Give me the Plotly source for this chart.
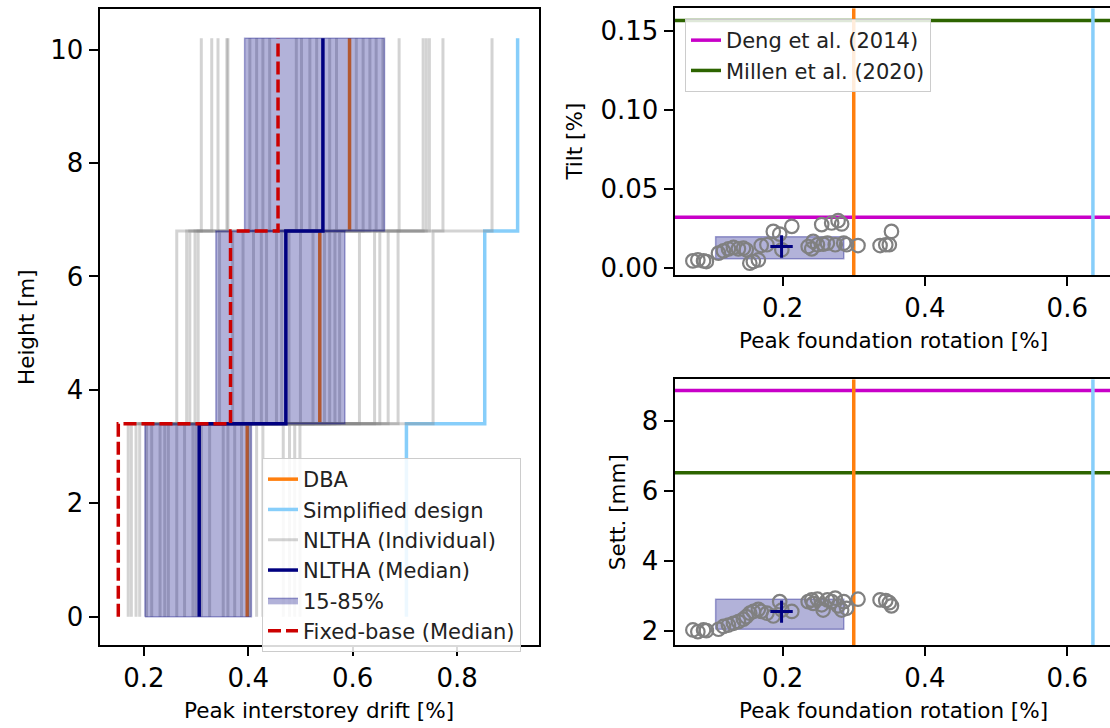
import plotly.graph_objects as go

# ---------------- data ----------------
FLOOR_H = [0.0, 3.4, 6.8, 10.2]          # storey boundaries [m]
DBA = [0.398, 0.537, 0.594]               # peak interstorey drift [%] per storey
SIMPLIFIED = [0.703, 0.853, 0.916]
NLTHA_MEDIAN = [0.306, 0.472, 0.543]
P15 = [0.202, 0.338, 0.393]
P85 = [0.406, 0.585, 0.661]
FIXED_MEDIAN = [0.151, 0.366, 0.457]

IND_S1 = [0.170, 0.176, 0.185, 0.192, 0.205, 0.215, 0.231, 0.240, 0.247, 0.263, 0.278, 0.294, 0.300,
          0.310, 0.326, 0.352, 0.361, 0.374, 0.387, 0.403, 0.416, 0.428, 0.467, 0.479, 0.489, 0.499]
IND_S2 = [0.263, 0.282, 0.288, 0.298, 0.304, 0.345, 0.370, 0.390, 0.410, 0.425, 0.435, 0.454, 0.464,
          0.478, 0.500, 0.524, 0.546, 0.556, 0.566, 0.575, 0.613, 0.642, 0.652, 0.668, 0.687, 0.754]
IND_S3 = [0.310, 0.330, 0.342, 0.359, 0.361, 0.403, 0.416, 0.428, 0.441, 0.492, 0.502, 0.518, 0.531,
          0.556, 0.569, 0.607, 0.620, 0.633, 0.645, 0.658, 0.689, 0.735, 0.741, 0.747, 0.773, 0.867]

ROT = [0.074, 0.081, 0.089, 0.093, 0.110, 0.117, 0.124, 0.131, 0.138, 0.145, 0.149, 0.154, 0.159,
       0.166, 0.170, 0.178, 0.187, 0.196, 0.199, 0.213, 0.236, 0.241, 0.243, 0.249, 0.255, 0.257,
       0.263, 0.269, 0.274, 0.278, 0.283, 0.286, 0.290, 0.306, 0.337, 0.345, 0.350, 0.353]
TILT = [0.0047, 0.0053, 0.0047, 0.0043, 0.0096, 0.0110, 0.0123, 0.0132, 0.0123, 0.0127, 0.0117, 0.0032, 0.0043,
        0.0053, 0.0144, 0.0149, 0.0233, 0.0216, 0.0117, 0.0265, 0.0138, 0.0123, 0.0170, 0.0149, 0.0276, 0.0153,
        0.0159, 0.0286, 0.0149, 0.0301, 0.0280, 0.0159, 0.0149, 0.0144, 0.0144, 0.0149, 0.0149, 0.0233]
SETT = [2.02, 1.97, 2.02, 2.00, 2.04, 2.12, 2.16, 2.21, 2.26, 2.33, 2.40, 2.50, 2.55,
        2.61, 2.55, 2.50, 2.42, 2.83, 2.59, 2.55, 2.83, 2.88, 2.78, 2.90, 2.74, 2.59,
        2.88, 2.83, 2.93, 2.71, 2.59, 2.83, 2.64, 2.90, 2.88, 2.86, 2.80, 2.71]

ROT_MED, TILT_MED, SETT_MED = 0.1986, 0.0138, 2.545
ROT_P15, ROT_P85 = 0.106, 0.286
TILT_P15, TILT_P85 = 0.0060, 0.0200
SETT_P15, SETT_P85 = 2.04, 2.90
DBA_ROT, SIMPL_ROT = 0.300, 0.636
DENG_TILT, MILLEN_TILT = 0.0322, 0.1564
DENG_SETT, MILLEN_SETT = 8.87, 6.52

# ---------------- styling ----------------
FONT = "DejaVu Sans"
C_DBA = "#ff7f0e"
C_SIMPL = "#87cefa"
C_IND = "rgba(128,128,128,0.35)"
C_MED = "#000080"
C_BAND = "rgba(0,0,128,0.3)"
C_FIX = "#cc0000"
C_DENG = "#c800c8"
C_MILLEN = "#2d6400"

W, H = 1110, 728
X1_RANGE = [0.115, 0.956]
Y1_RANGE = [-0.50, 10.71]
X2_RANGE = [0.0482, 0.660]
Y2_RANGE = [-0.0042, 0.1641]
Y3_RANGE = [1.59, 9.19]


def step(vals):
    xs, ys = [], []
    for i, v in enumerate(vals):
        xs += [v, v]
        ys += [FLOOR_H[i], FLOOR_H[i + 1]]
    return xs, ys


def verticals(vals):
    xs, ys = [], []
    for i, v in enumerate(vals):
        xs += [v, v, None]
        ys += [FLOOR_H[i], FLOOR_H[i + 1], None]
    return xs, ys


def boxes(lo, hi):
    xs, ys = [], []
    for i in range(len(lo)):
        xs += [lo[i], hi[i], hi[i], lo[i], lo[i], None]
        ys += [FLOOR_H[i], FLOOR_H[i], FLOOR_H[i + 1], FLOOR_H[i + 1], FLOOR_H[i], None]
    return xs, ys


fig = go.Figure()

# ---- left panel ----
x, y = verticals(DBA)
fig.add_trace(go.Scatter(x=x, y=y, mode="lines", line=dict(color=C_DBA, width=3.5),
                         name="DBA", legend="legend", xaxis="x", yaxis="y"))
x, y = step(SIMPLIFIED)
fig.add_trace(go.Scatter(x=x, y=y, mode="lines", line=dict(color=C_SIMPL, width=3.5),
                         name="Simplified design", legend="legend", xaxis="x", yaxis="y"))
for k in range(len(IND_S1)):
    x, y = step([IND_S1[k], IND_S2[k], IND_S3[k]])
    fig.add_trace(go.Scatter(x=x, y=y, mode="lines", line=dict(color=C_IND, width=3),
                             name="NLTHA (Individual)", legendgroup="ind", showlegend=(k == 0),
                             legend="legend", xaxis="x", yaxis="y"))
x, y = boxes(P15, P85)
fig.add_trace(go.Scatter(x=x, y=y, mode="lines", fill="toself", fillcolor=C_BAND,
                         line=dict(color="rgba(0,0,128,0.35)", width=1.5),
                         name="15-85%", legendrank=1005, legend="legend", xaxis="x", yaxis="y"))
x, y = step(NLTHA_MEDIAN)
fig.add_trace(go.Scatter(x=x, y=y, mode="lines", line=dict(color=C_MED, width=3.5),
                         name="NLTHA (Median)", legendrank=1004, legend="legend", xaxis="x", yaxis="y"))
x, y = step(FIXED_MEDIAN)
fig.add_trace(go.Scatter(x=x, y=y, mode="lines", line=dict(color=C_FIX, width=3.5, dash="13px,5px"),
                         name="Fixed-base (Median)", legendrank=1006, legend="legend", xaxis="x", yaxis="y"))

# ---- right panels ----
for xa, ya, yv, p15, p85, med, deng, millen, yr, show in [
        ("x2", "y2", TILT, TILT_P15, TILT_P85, TILT_MED, DENG_TILT, MILLEN_TILT, Y2_RANGE, True),
        ("x3", "y3", SETT, SETT_P15, SETT_P85, SETT_MED, DENG_SETT, MILLEN_SETT, Y3_RANGE, False)]:
    fig.add_trace(go.Scatter(x=[X2_RANGE[0], X2_RANGE[1] + 1], y=[deng, deng], mode="lines",
                             line=dict(color=C_DENG, width=3.5), name="Deng et al. (2014)",
                             showlegend=show, legend="legend2", xaxis=xa, yaxis=ya))
    fig.add_trace(go.Scatter(x=[X2_RANGE[0], X2_RANGE[1] + 1], y=[millen, millen], mode="lines",
                             line=dict(color=C_MILLEN, width=3.5), name="Millen et al. (2020)",
                             showlegend=show, legend="legend2", xaxis=xa, yaxis=ya))
    fig.add_trace(go.Scatter(x=[DBA_ROT, DBA_ROT], y=yr, mode="lines",
                             line=dict(color=C_DBA, width=3.5), showlegend=False, xaxis=xa, yaxis=ya))
    fig.add_trace(go.Scatter(x=[SIMPL_ROT, SIMPL_ROT], y=yr, mode="lines",
                             line=dict(color=C_SIMPL, width=3.5), showlegend=False, xaxis=xa, yaxis=ya))
    fig.add_trace(go.Scatter(x=[ROT_P15, ROT_P85, ROT_P85, ROT_P15, ROT_P15], y=[p15, p15, p85, p85, p15],
                             mode="lines", fill="toself", fillcolor=C_BAND,
                             line=dict(color="rgba(0,0,128,0.35)", width=1.5),
                             showlegend=False, xaxis=xa, yaxis=ya))
    fig.add_trace(go.Scatter(x=ROT, y=yv, mode="markers",
                             marker=dict(symbol="circle-open", size=13.5, color="rgb(128,128,128)",
                                         line=dict(width=2.2, color="rgb(128,128,128)")),
                             showlegend=False, xaxis=xa, yaxis=ya))
    fig.add_trace(go.Scatter(x=[ROT_MED], y=[med], mode="markers",
                             marker=dict(symbol="cross-thin-open", size=16, color=C_MED,
                                         line=dict(width=3, color=C_MED)),
                             showlegend=False, xaxis=xa, yaxis=ya))

tickfont = dict(family=FONT, size=26, color="black")
common = dict(showgrid=False, zeroline=False, showline=True, linecolor="black", linewidth=2,
              ticks="outside", ticklen=9, tickwidth=2, tickcolor="black", tickfont=tickfont,
              automargin=False)

fig.update_layout(
    width=W, height=H,
    margin=dict(l=0, r=0, t=0, b=0, autoexpand=False),
    paper_bgcolor="white", plot_bgcolor="white",
    font=dict(family=FONT, color="black"),
    xaxis=dict(domain=[99.5 / W, 538.5 / W], range=X1_RANGE, anchor="y", mirror=True,
               tickvals=[0.2, 0.4, 0.6, 0.8], ticktext=["0.2", "0.4", "0.6", "0.8"], **common),
    yaxis=dict(domain=[1 - 645.0 / H, 1 - 9.3 / H], range=Y1_RANGE, anchor="x", mirror=True,
               tickvals=[0, 2, 4, 6, 8, 10], **common),
    xaxis2=dict(domain=[674.5 / W, 1.0], range=X2_RANGE, anchor="y2", mirror=True,
                tickvals=[0.2, 0.4, 0.6], ticktext=["0.2", "0.4", "0.6"], **common),
    yaxis2=dict(domain=[1 - 275.0 / H, 1 - 8.3 / H], range=Y2_RANGE, anchor="x2", mirror=False,
                tickvals=[0.0, 0.05, 0.10, 0.15], ticktext=["0.00", "0.05", "0.10", "0.15"], **common),
    xaxis3=dict(domain=[674.5 / W, 1.0], range=X2_RANGE, anchor="y3", mirror=True,
                tickvals=[0.2, 0.4, 0.6], ticktext=["0.2", "0.4", "0.6"], **common),
    yaxis3=dict(domain=[1 - 645.0 / H, 1 - 379.3 / H], range=Y3_RANGE, anchor="x3", mirror=False,
                tickvals=[2, 4, 6, 8], **common),
    legend=dict(x=262 / W, y=1 - 458 / H, xanchor="left", yanchor="top",
                bgcolor="rgba(255,255,255,0.85)", bordercolor="#cccccc", borderwidth=1,
                font=dict(family=FONT, size=21, color="#222222"), traceorder="normal",
                tracegroupgap=0),
    legend2=dict(x=685 / W, y=1 - 19 / H, xanchor="left", yanchor="top",
                 bgcolor="rgba(255,255,255,0.85)", bordercolor="#cccccc", borderwidth=1,
                 font=dict(family=FONT, size=21, color="#222222")),
    showlegend=True,
)

annots = [
    dict(text="Peak interstorey drift [%]", x=319 / W, y=1 - 710 / H, textangle=0),
    dict(text="Peak foundation rotation [%]", x=893.7 / W, y=1 - 340 / H, textangle=0),
    dict(text="Peak foundation rotation [%]", x=893.7 / W, y=1 - 710 / H, textangle=0),
    dict(text="Height [m]", x=27 / W, y=1 - 327 / H, textangle=-90),
    dict(text="Tilt [%]", x=575 / W, y=1 - 141.6 / H, textangle=-90),
    dict(text="Sett. [mm]", x=617 / W, y=1 - 512.2 / H, textangle=-90),
]
for a in annots:
    fig.add_annotation(xref="paper", yref="paper", xanchor="center", yanchor="middle",
                       showarrow=False, font=dict(family=FONT, size=21.5, color="black"), **a)

fig.write_html("out.html",
               config={"displayModeBar": False},
               post_script="document.body.style.margin='0';document.body.style.padding='0';"
                           "document.body.style.overflow='hidden';")
